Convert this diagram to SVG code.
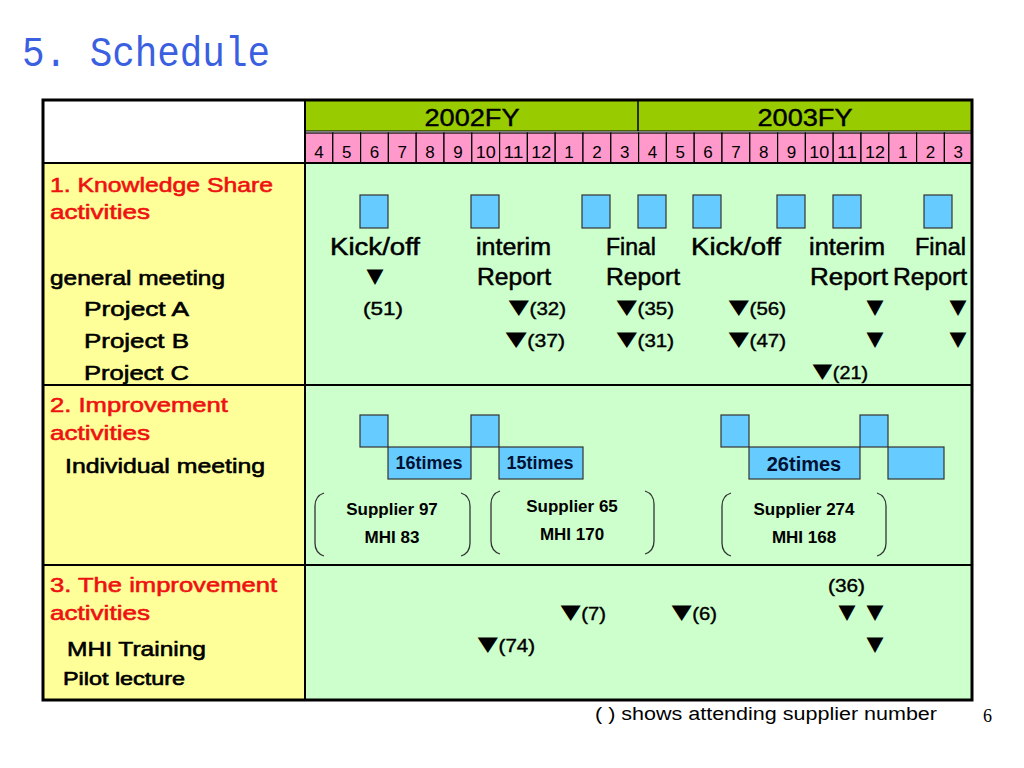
<svg xmlns="http://www.w3.org/2000/svg" width="1024" height="768" viewBox="0 0 1024 768">
<defs>
<style>
text{font-family:"Liberation Sans","Noto Sans CJK JP",sans-serif;fill:#000}
.title{font-family:"Liberation Mono","DejaVu Sans Mono",monospace;font-size:42px;fill:#3a5fe0}
.lab{font-size:21px;stroke:#000;stroke-width:0.6}
.red{fill:#ee1111;stroke:#ee1111}
.big{font-size:23px;stroke:#000;stroke-width:0.5}
.mk{font-size:18px;stroke:#000;stroke-width:0.4}
.tri{font-family:"Noto Sans CJK JP","DejaVu Sans",sans-serif;font-size:19px;stroke:none}
.mon{font-size:17px;text-anchor:middle}
.fy{font-size:23px;text-anchor:middle;stroke:#000;stroke-width:0.4}
.tm{font-size:18px;font-weight:bold;fill:#001133;text-anchor:middle}
.sup{font-size:17px;font-weight:bold;text-anchor:middle}
.blk{fill:#66ccff;stroke:#333;stroke-width:1.2}
.br{fill:none;stroke:#333;stroke-width:1.3}
.cell{fill:#ff99cc;stroke:#000;stroke-width:1.2}
</style>
</defs>
<rect width="1024" height="768" fill="#fff"/>
<text class="title" x="22" y="66" textLength="248" lengthAdjust="spacingAndGlyphs">5. Schedule</text>

<g id="table">
<rect x="43" y="100" width="262" height="63" fill="#fff"/>
<rect x="43" y="163" width="262" height="537" fill="#ffff99"/>
<rect x="305" y="163" width="667" height="537" fill="#ccffcc"/>
<rect x="305" y="100" width="667" height="31" fill="#99cc00"/>
<line x1="638" y1="100" x2="638" y2="131" stroke="#000" stroke-width="1.5"/>
<line x1="305" y1="131" x2="972" y2="131" stroke="#000" stroke-width="1.2"/>
</g>

<g id="months">
<rect class="cell" x="305.0" y="133" width="27.8" height="30"/>
<rect class="cell" x="332.8" y="133" width="27.8" height="30"/>
<rect class="cell" x="360.6" y="133" width="27.8" height="30"/>
<rect class="cell" x="388.4" y="133" width="27.8" height="30"/>
<rect class="cell" x="416.2" y="133" width="27.8" height="30"/>
<rect class="cell" x="444.0" y="133" width="27.8" height="30"/>
<rect class="cell" x="471.8" y="133" width="27.8" height="30"/>
<rect class="cell" x="499.6" y="133" width="27.8" height="30"/>
<rect class="cell" x="527.4" y="133" width="27.8" height="30"/>
<rect class="cell" x="555.2" y="133" width="27.8" height="30"/>
<rect class="cell" x="583.0" y="133" width="27.8" height="30"/>
<rect class="cell" x="610.8" y="133" width="27.8" height="30"/>
<rect class="cell" x="638.6" y="133" width="27.8" height="30"/>
<rect class="cell" x="666.4" y="133" width="27.8" height="30"/>
<rect class="cell" x="694.2" y="133" width="27.8" height="30"/>
<rect class="cell" x="722.0" y="133" width="27.8" height="30"/>
<rect class="cell" x="749.8" y="133" width="27.8" height="30"/>
<rect class="cell" x="777.6" y="133" width="27.8" height="30"/>
<rect class="cell" x="805.4" y="133" width="27.8" height="30"/>
<rect class="cell" x="833.2" y="133" width="27.8" height="30"/>
<rect class="cell" x="861.0" y="133" width="27.8" height="30"/>
<rect class="cell" x="888.8" y="133" width="27.8" height="30"/>
<rect class="cell" x="916.6" y="133" width="27.8" height="30"/>
<rect class="cell" x="944.4" y="133" width="27.6" height="30"/>
<text class="fy" x="472" y="126" textLength="95" lengthAdjust="spacingAndGlyphs">2002FY</text>
<text class="fy" x="805" y="126" textLength="95" lengthAdjust="spacingAndGlyphs">2003FY</text>
<text class="mon" x="318.9" y="158">4</text>
<text class="mon" x="346.7" y="158">5</text>
<text class="mon" x="374.5" y="158">6</text>
<text class="mon" x="402.3" y="158">7</text>
<text class="mon" x="430.1" y="158">8</text>
<text class="mon" x="457.9" y="158">9</text>
<text class="mon" x="485.7" y="158" textLength="20" lengthAdjust="spacingAndGlyphs">10</text>
<text class="mon" x="513.5" y="158" textLength="20" lengthAdjust="spacingAndGlyphs">11</text>
<text class="mon" x="541.3" y="158" textLength="20" lengthAdjust="spacingAndGlyphs">12</text>
<text class="mon" x="569.1" y="158">1</text>
<text class="mon" x="596.9" y="158">2</text>
<text class="mon" x="624.7" y="158">3</text>
<text class="mon" x="652.5" y="158">4</text>
<text class="mon" x="680.3" y="158">5</text>
<text class="mon" x="708.1" y="158">6</text>
<text class="mon" x="735.9" y="158">7</text>
<text class="mon" x="763.7" y="158">8</text>
<text class="mon" x="791.5" y="158">9</text>
<text class="mon" x="819.3" y="158" textLength="20" lengthAdjust="spacingAndGlyphs">10</text>
<text class="mon" x="847.1" y="158" textLength="20" lengthAdjust="spacingAndGlyphs">11</text>
<text class="mon" x="874.9" y="158" textLength="20" lengthAdjust="spacingAndGlyphs">12</text>
<text class="mon" x="902.7" y="158">1</text>
<text class="mon" x="930.5" y="158">2</text>
<text class="mon" x="958.3" y="158">3</text>
</g>

<g id="labels">
<text class="lab red" x="50" y="192" textLength="223" lengthAdjust="spacingAndGlyphs">1. Knowledge Share</text>
<text class="lab red" x="50" y="219" textLength="100" lengthAdjust="spacingAndGlyphs">activities</text>
<text class="lab" x="50" y="285" textLength="175" lengthAdjust="spacingAndGlyphs">general meeting</text>
<text class="lab" x="84" y="316" textLength="105" lengthAdjust="spacingAndGlyphs">Project A</text>
<text class="lab" x="84" y="348" textLength="105" lengthAdjust="spacingAndGlyphs">Project B</text>
<text class="lab" x="84" y="380" textLength="105" lengthAdjust="spacingAndGlyphs">Project C</text>
<text class="lab red" x="50" y="412" textLength="178" lengthAdjust="spacingAndGlyphs">2. Improvement</text>
<text class="lab red" x="50" y="440" textLength="100" lengthAdjust="spacingAndGlyphs">activities</text>
<text class="lab" x="65" y="473" textLength="200" lengthAdjust="spacingAndGlyphs">Individual meeting</text>
<text class="lab red" x="50" y="592" textLength="227" lengthAdjust="spacingAndGlyphs">3. The improvement</text>
<text class="lab red" x="50" y="620" textLength="100" lengthAdjust="spacingAndGlyphs">activities</text>
<text class="lab" x="67" y="656" textLength="139" lengthAdjust="spacingAndGlyphs">MHI Training</text>
<text class="lab" x="63" y="685" style="font-size:18px" textLength="122" lengthAdjust="spacingAndGlyphs">Pilot lecture</text>
</g>

<g id="knowledge-share">
<rect class="blk" x="360" y="195" width="28" height="33"/>
<rect class="blk" x="471" y="195" width="28" height="33"/>
<rect class="blk" x="582" y="195" width="28" height="33"/>
<rect class="blk" x="638" y="195" width="28" height="33"/>
<rect class="blk" x="693" y="195" width="28" height="33"/>
<rect class="blk" x="777" y="195" width="28" height="33"/>
<rect class="blk" x="833" y="195" width="28" height="33"/>
<rect class="blk" x="924" y="195" width="28" height="33"/>
<text class="big" x="330" y="255" textLength="90" lengthAdjust="spacingAndGlyphs">Kick/off</text>
<text class="big" x="476" y="255" textLength="75" lengthAdjust="spacingAndGlyphs">interim</text>
<text class="big" x="606" y="255" textLength="50" lengthAdjust="spacingAndGlyphs">Final</text>
<text class="big" x="691" y="255" textLength="90" lengthAdjust="spacingAndGlyphs">Kick/off</text>
<text class="big" x="809" y="255" textLength="76" lengthAdjust="spacingAndGlyphs">interim</text>
<text class="big" x="915" y="255" textLength="51" lengthAdjust="spacingAndGlyphs">Final</text>
<text class="mk" x="366" y="284" textLength="18" lengthAdjust="spacingAndGlyphs"><tspan class="tri">▼</tspan></text>
<text class="big" x="477" y="285" textLength="74" lengthAdjust="spacingAndGlyphs">Report</text>
<text class="big" x="606" y="285" textLength="74" lengthAdjust="spacingAndGlyphs">Report</text>
<text class="big" x="810" y="285" textLength="78" lengthAdjust="spacingAndGlyphs">Report</text>
<text class="big" x="893" y="285" textLength="74" lengthAdjust="spacingAndGlyphs">Report</text>
<text class="mk" x="363" y="315" textLength="40" lengthAdjust="spacingAndGlyphs">(51)</text>
<text class="mk" x="508" y="315" textLength="58" lengthAdjust="spacingAndGlyphs"><tspan class="tri">▼</tspan>(32)</text>
<text class="mk" x="616" y="315" textLength="58" lengthAdjust="spacingAndGlyphs"><tspan class="tri">▼</tspan>(35)</text>
<text class="mk" x="728" y="315" textLength="58" lengthAdjust="spacingAndGlyphs"><tspan class="tri">▼</tspan>(56)</text>
<text class="mk" x="866" y="315" textLength="18" lengthAdjust="spacingAndGlyphs"><tspan class="tri">▼</tspan></text>
<text class="mk" x="949" y="315" textLength="18" lengthAdjust="spacingAndGlyphs"><tspan class="tri">▼</tspan></text>
<text class="mk" x="505" y="347" textLength="60" lengthAdjust="spacingAndGlyphs"><tspan class="tri">▼</tspan>(37)</text>
<text class="mk" x="616" y="347" textLength="58" lengthAdjust="spacingAndGlyphs"><tspan class="tri">▼</tspan>(31)</text>
<text class="mk" x="728" y="347" textLength="58" lengthAdjust="spacingAndGlyphs"><tspan class="tri">▼</tspan>(47)</text>
<text class="mk" x="866" y="347" textLength="18" lengthAdjust="spacingAndGlyphs"><tspan class="tri">▼</tspan></text>
<text class="mk" x="949" y="347" textLength="18" lengthAdjust="spacingAndGlyphs"><tspan class="tri">▼</tspan></text>
<text class="mk" x="812" y="379" textLength="56" lengthAdjust="spacingAndGlyphs"><tspan class="tri">▼</tspan>(21)</text>
</g>

<g id="improvement">
<rect class="blk" x="360" y="415" width="28" height="32"/>
<rect class="blk" x="388" y="447" width="83" height="32"/>
<rect class="blk" x="471" y="415" width="28" height="32"/>
<rect class="blk" x="499" y="447" width="84" height="32"/>
<rect class="blk" x="721" y="415" width="28" height="32"/>
<rect class="blk" x="749" y="447" width="111" height="32"/>
<rect class="blk" x="860" y="415" width="28" height="32"/>
<rect class="blk" x="888" y="447" width="56" height="32"/>
<text class="tm" x="429" y="469">16times</text>
<text class="tm" x="540" y="469">15times</text>
<text class="tm" x="804" y="471" style="font-size:20px">26times</text>
<path class="br" d="M324,493 Q315,496 315,506 L315,543 Q315,553 324,556"/>
<path class="br" d="M461,493 Q470,496 470,506 L470,543 Q470,553 461,556"/>
<path class="br" d="M500,491 Q491,494 491,504 L491,541 Q491,551 500,554"/>
<path class="br" d="M645,491 Q654,494 654,504 L654,541 Q654,551 645,554"/>
<path class="br" d="M731,493 Q722,496 722,506 L722,543 Q722,553 731,556"/>
<path class="br" d="M877,493 Q886,496 886,506 L886,543 Q886,553 877,556"/>
<text class="sup" x="392" y="515">Supplier 97</text>
<text class="sup" x="392" y="543">MHI 83</text>
<text class="sup" x="572" y="512">Supplier 65</text>
<text class="sup" x="572" y="540">MHI 170</text>
<text class="sup" x="804" y="515">Supplier 274</text>
<text class="sup" x="804" y="543">MHI 168</text>
</g>

<g id="training">
<text class="mk" x="828" y="592" textLength="37" lengthAdjust="spacingAndGlyphs">(36)</text>
<text class="mk" x="560" y="620" textLength="46" lengthAdjust="spacingAndGlyphs"><tspan class="tri">▼</tspan>(7)</text>
<text class="mk" x="671" y="620" textLength="46" lengthAdjust="spacingAndGlyphs"><tspan class="tri">▼</tspan>(6)</text>
<text class="mk" x="838" y="620" textLength="18" lengthAdjust="spacingAndGlyphs"><tspan class="tri">▼</tspan></text>
<text class="mk" x="866" y="620" textLength="18" lengthAdjust="spacingAndGlyphs"><tspan class="tri">▼</tspan></text>
<text class="mk" x="477" y="652" textLength="58" lengthAdjust="spacingAndGlyphs"><tspan class="tri">▼</tspan>(74)</text>
<text class="mk" x="866" y="652" textLength="18" lengthAdjust="spacingAndGlyphs"><tspan class="tri">▼</tspan></text>
</g>

<g id="grid" fill="none" stroke="#000">
<line x1="43" y1="163" x2="972" y2="163" stroke-width="2"/>
<line x1="43" y1="385" x2="972" y2="385" stroke-width="2"/>
<line x1="43" y1="565" x2="972" y2="565" stroke-width="2"/>
<line x1="305" y1="100" x2="305" y2="700" stroke-width="2"/>
<rect x="43" y="100" width="929" height="600" stroke-width="3"/>
</g>

<text x="595" y="720" style="font-size:18px" textLength="342" lengthAdjust="spacingAndGlyphs">( ) shows attending supplier number</text>
<text x="983" y="722" style="font-family:'Liberation Serif',serif;font-size:18px">6</text>
</svg>
